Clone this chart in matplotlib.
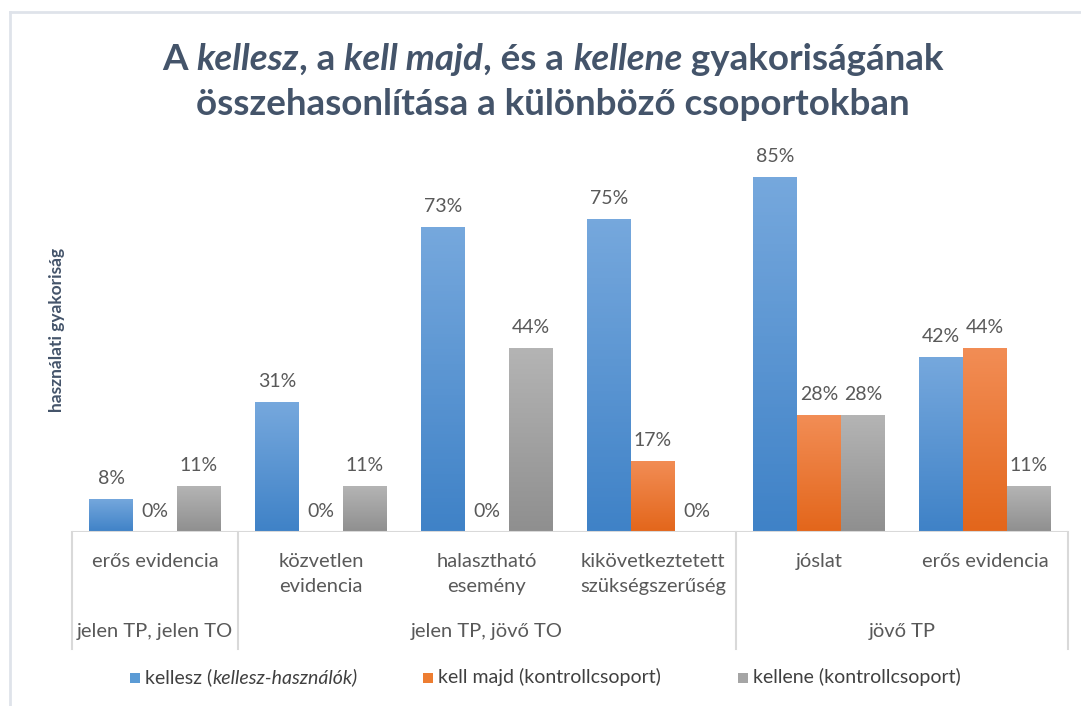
import numpy as np
import matplotlib
matplotlib.use("Agg")
import matplotlib.pyplot as plt
from matplotlib.colors import LinearSegmentedColormap
from matplotlib.patches import Rectangle
from matplotlib.lines import Line2D

# adatok
categories = ["erős evidencia", "közvetlen\nevidencia", "halasztható\nesemény",
              "kikövetkeztetett\nszükségszerűség", "jóslat", "erős evidencia"]
groups = ["jelen TP, jelen TO", "jelen TP, jövő TO", "jövő TP"]
group_spans = [(0, 0), (1, 3), (4, 5)]
kellesz = [0.08, 0.31, 0.73, 0.75, 0.85, 0.42]
kell_majd = [0.00, 0.00, 0.00, 0.17, 0.28, 0.44]
kellene = [0.11, 0.11, 0.44, 0.00, 0.28, 0.11]
series = [kellesz, kell_majd, kellene]
series_names = [("kellesz (", "kellesz-használók)"),
                ("kell majd (kontrollcsoport)", None),
                ("kellene (kontrollcsoport)", None)]

grad_colors = [("#76a8dd", "#3f82c7"), ("#f28d55", "#e3661b"), ("#b4b4b4", "#8f8f8f")]
legend_colors = ["#5b9bd5", "#ed7d31", "#a5a5a5"]

FONT = "Lato"
TXT = "#595959"
TITLE_C = "#44546a"

W, H = 1081, 706
fig = plt.figure(figsize=(W / 100, H / 100), dpi=100)
fig.patch.set_facecolor("white")

# rajzterület
ax_left, ax_right, base_y, top_y = 72, 1068, 532, 156
ax = fig.add_axes([ax_left / W, 1 - base_y / H, (ax_right - ax_left) / W, (base_y - top_y) / H])
ymax = 0.90
x = np.arange(len(categories))
bw = 0.265

for k, vals in enumerate(series):
    cmap = LinearSegmentedColormap.from_list("g%d" % k, [grad_colors[k][1], grad_colors[k][0]])
    bars = ax.bar(x + (k - 1) * bw, vals, width=bw, color=grad_colors[k][1], linewidth=0)
    for b, v in zip(bars, vals):
        if v > 0:
            grad = np.linspace(0, 1, 100).reshape(-1, 1)
            im = ax.imshow(grad, cmap=cmap, origin="lower", aspect="auto",
                           extent=[b.get_x(), b.get_x() + b.get_width(), 0, v], zorder=2)
            im.set_clip_path(b)
        ax.annotate("%d%%" % round(v * 100), (b.get_x() + b.get_width() / 2, v),
                    xytext=(0, 12), textcoords="offset pixels", ha="center", va="bottom",
                    fontsize=14, color=TXT, family=FONT)

ax.set_xlim(-0.5, len(categories) - 0.5)
ax.set_ylim(0, ymax)
ax.axis("off")

# kategória tengely
ax.axhline(0, color="#d9d9d9", lw=1.5, zorder=3)
sep_h = -(649 - base_y) / (base_y - top_y)
for xs in [-0.5, 0.5, 3.5, 5.5]:
    ax.add_line(Line2D([xs, xs], [0, sep_h], transform=ax.get_xaxis_transform(),
                       color="#d9d9d9", lw=1.5, clip_on=False))
for i, c in enumerate(categories):
    ax.annotate(c, (i, 0), xycoords=("data", "axes fraction"), xytext=(0, -21),
                textcoords="offset pixels", ha="center", va="top", fontsize=14.5,
                color=TXT, family=FONT, linespacing=1.6)
for g, (a, b) in zip(groups, group_spans):
    ax.annotate(g, ((a + b) / 2, 0), xycoords=("data", "axes fraction"), xytext=(0, -99),
                textcoords="offset pixels", ha="center", va="center", fontsize=14.5,
                color=TXT, family=FONT)

fig.text(57 / W, 1 - 330 / H, "használati gyakoriság", rotation=90, ha="center", va="center",
         fontsize=12.5, weight="bold", color=TITLE_C, family=FONT)

renderer = fig.canvas.get_renderer()


def piece_width(s, **kw):
    t = fig.text(0, 0, "|" + s + "|", **kw)
    w1 = t.get_window_extent(renderer).width
    t.set_text("||")
    w2 = t.get_window_extent(renderer).width
    t.remove()
    return w1 - w2


def rich_text(x0, y, pieces, center=True, **kw):
    widths = [piece_width(s, fontstyle=st, **kw) for s, st in pieces]
    xp = x0 - sum(widths) / 2 if center else x0
    for (s, st), w in zip(pieces, widths):
        fig.text(xp / W, 1 - y / H, s, fontstyle=st, ha="left", va="baseline", **kw)
        xp += w


title_kw = dict(fontsize=26.5, weight="bold", color=TITLE_C, family=FONT)
rich_text(553, 70, [("A ", "normal"), ("kellesz", "italic"), (", a ", "normal"),
                    ("kell majd", "italic"), (", és a ", "normal"), ("kellene", "italic"),
                    (" gyakoriságának", "normal")], **title_kw)
rich_text(553, 115, [("összehasonlítása a különböző csoportokban", "normal")], **title_kw)

# jelmagyarázat
leg_x = [130, 423, 738]
leg_kw = dict(fontsize=14, color="#404040", family=FONT)
for lx, col, (a, b) in zip(leg_x, legend_colors, series_names):
    fig.patches.append(Rectangle((lx / W, 1 - 683 / H), 10 / W, 10 / H, transform=fig.transFigure,
                                 facecolor=col, edgecolor="none"))
    pcs = [(a, "normal")] + ([(b, "italic")] if b else [])
    rich_text(lx + 15, 683, pcs, center=False, **leg_kw)

# keret
frame = "#dfe3ea"
fig.add_artist(Line2D([10 / W, 1], [1 - 12 / H, 1 - 12 / H], transform=fig.transFigure, color=frame, lw=2))
fig.add_artist(Line2D([10 / W, 10 / W], [0, 1 - 12 / H], transform=fig.transFigure, color=frame, lw=2))

fig.savefig("out.png", dpi=100)
